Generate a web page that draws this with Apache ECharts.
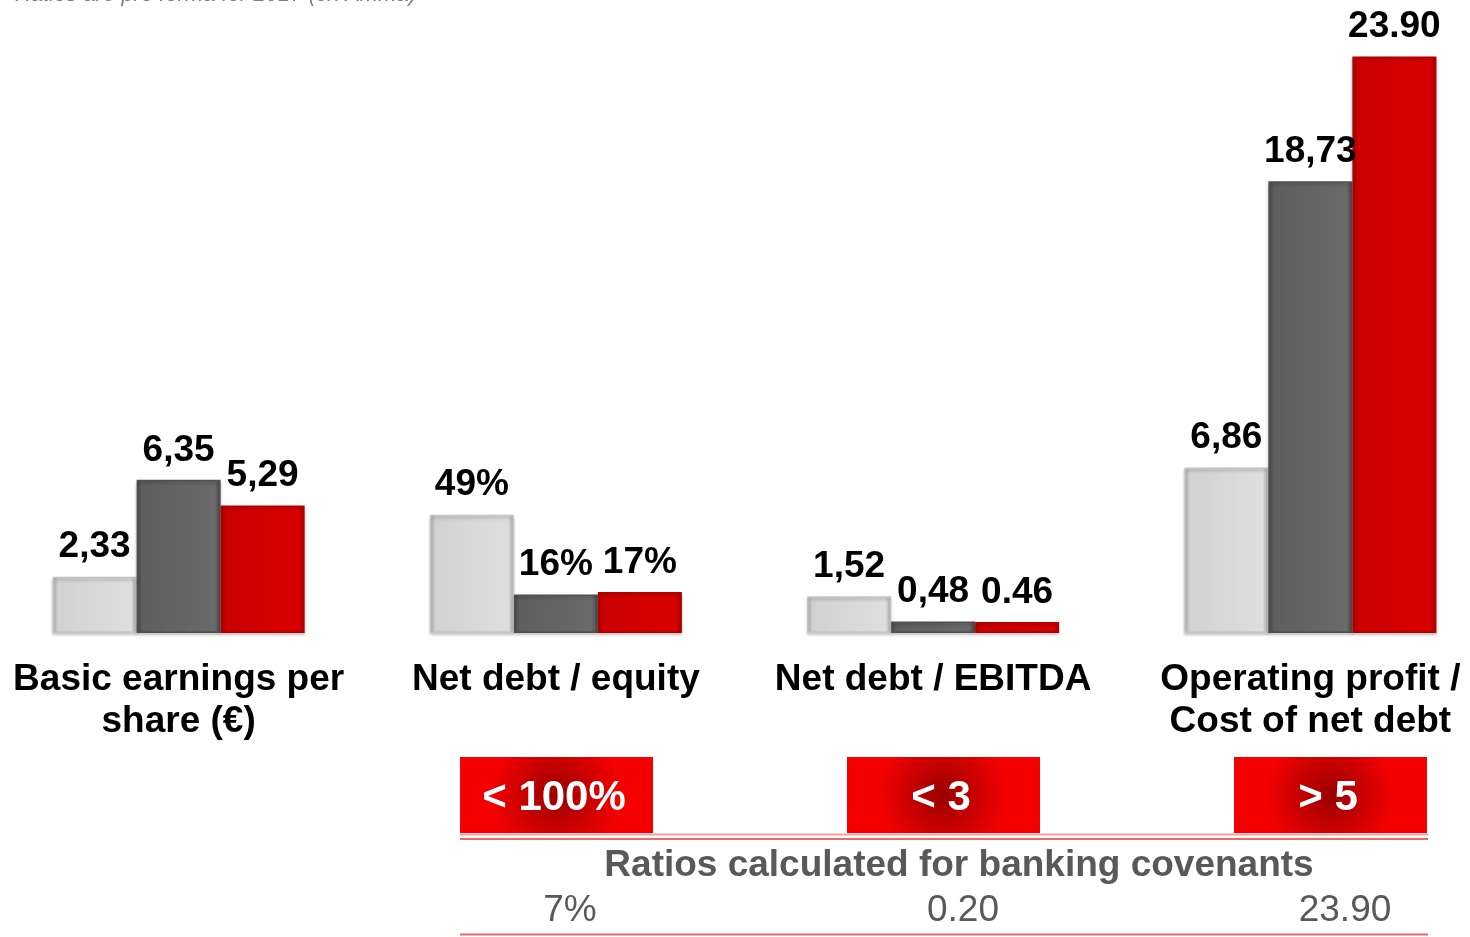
<!DOCTYPE html>
<html>
<head>
<meta charset="utf-8">
<script src="https://cdn.jsdelivr.net/npm/echarts@6/dist/echarts.min.js"></script>
<style>
html,body{margin:0;padding:0;background:#fff;}
#chart{width:1470px;height:937px;}
</style>
</head>
<body>
<div id="chart"></div>
<script>
const categories = ['Basic earnings per\nshare (€)', 'Net debt / equity', 'Net debt / EBITDA', 'Operating profit /\nCost of net debt'];
const seriesA = [2.33, 4.9, 1.52, 6.86];
const seriesB = [6.35, 1.6, 0.48, 18.73];
const seriesC = [5.29, 1.7, 0.46, 23.90];
const labelsA = ['2,33', '49%', '1,52', '6,86'];
const labelsB = ['6,35', '16%', '0,48', '18,73'];
const labelsC = ['5,29', '17%', '0.46', '23.90'];
const covenantLimits = ['< 100%', '< 3', '> 5'];
const covenantValues = ['7%', '0.20', '23.90'];
const covenantTitle = 'Ratios calculated for banking covenants';
const noteText = 'Ratios are pro forma for 2017 (ex Amma)';

const FONT = "'Liberation Sans', Arial, sans-serif";

function grad(edge, mid, mid2) {
  return new echarts.graphic.LinearGradient(1, 0, 0, 0, [
    {offset: 0, color: edge},
    {offset: 0.07, color: mid},
    {offset: 0.93, color: mid2},
    {offset: 1, color: edge}
  ]);
}

function mkSeries(name, data, labels, fill, border) {
  return {
    name: name,
    type: 'bar',
    data: data,
    barWidth: 84,
    barGap: '0%',
    itemStyle: {color: fill, borderColor: border, borderWidth: 1.5,
      shadowColor: 'rgba(0,0,0,0.25)', shadowBlur: 3, shadowOffsetY: 2},
    label: {
      show: true, position: 'top', distance: 11,
      formatter: p => labels[p.dataIndex],
      fontFamily: FONT, fontWeight: 'bold', fontSize: 37, color: '#000'
    }
  };
}

const chart = echarts.init(document.getElementById('chart'));

const boxX = [460, 847, 1234];
const valX = [570, 963, 1345];
const graphic = [];
graphic.push({
  type: 'text', x: 15, y: 6,
  style: {text: noteText, font: 'italic 22px ' + FONT, fill: '#7f7f7f', align: 'left', verticalAlign: 'bottom'}
});
covenantLimits.forEach((t, i) => {
  graphic.push({
    type: 'rect', shape: {x: boxX[i], y: 757, width: 193, height: 76},
    style: {fill: new echarts.graphic.RadialGradient(0.5, 0.5, 0.85, [
      {offset: 0, color: '#980000'},
      {offset: 0.55, color: '#cc0000'},
      {offset: 1, color: '#f40000'}
    ])}
  });
  graphic.push({
    type: 'text', x: boxX[i] + 94, y: 798,
    style: {text: t, font: 'bold 42px ' + FONT, fill: '#fff', align: 'center', verticalAlign: 'middle'}
  });
  graphic.push({
    type: 'text', x: valX[i], y: 911,
    style: {text: covenantValues[i], font: '37px ' + FONT, fill: '#595959', align: 'center', verticalAlign: 'middle'}
  });
});
graphic.push({type: 'line', shape: {x1: 460, y1: 834.5, x2: 1428, y2: 834.5}, style: {stroke: '#f3a0a0', lineWidth: 2}});
graphic.push({type: 'line', shape: {x1: 460, y1: 839, x2: 1428, y2: 839}, style: {stroke: '#ea6a6a', lineWidth: 2}});
graphic.push({type: 'line', shape: {x1: 460, y1: 934.5, x2: 1428, y2: 934.5}, style: {stroke: '#e86a6a', lineWidth: 2}});
graphic.push({
  type: 'text', x: 959, y: 866,
  style: {text: covenantTitle, font: 'bold 37px ' + FONT, fill: '#595959', align: 'center', verticalAlign: 'middle'}
});

chart.setOption({
  animation: false,
  backgroundColor: '#fff',
  grid: {left: -10, top: 54, width: 1509, bottom: 304, containLabel: false, outerBoundsMode: 'none'},
  xAxis: {
    type: 'category', data: categories,
    axisLine: {show: false},
    axisTick: {show: false},
    axisLabel: {
      interval: 0, margin: 26, fontFamily: FONT, fontWeight: 'bold',
      fontSize: 37, lineHeight: 42, color: '#000'
    }
  },
  yAxis: {type: 'value', min: 0, max: 24, show: false, splitLine: {show: false}},
  series: [
    mkSeries('A', seriesA, labelsA, grad('#b0b0b0', '#dedede', '#d2d2d2'), '#c4c4c4'),
    mkSeries('B', seriesB, labelsB, grad('#4a4a4a', '#6a6a6a', '#5e5e5e'), '#4f4f4f'),
    mkSeries('C', seriesC, labelsC, grad('#a80000', '#d80000', '#cc0000'), '#b00000')
  ],
  graphic: graphic
});
</script>
</body>
</html>
